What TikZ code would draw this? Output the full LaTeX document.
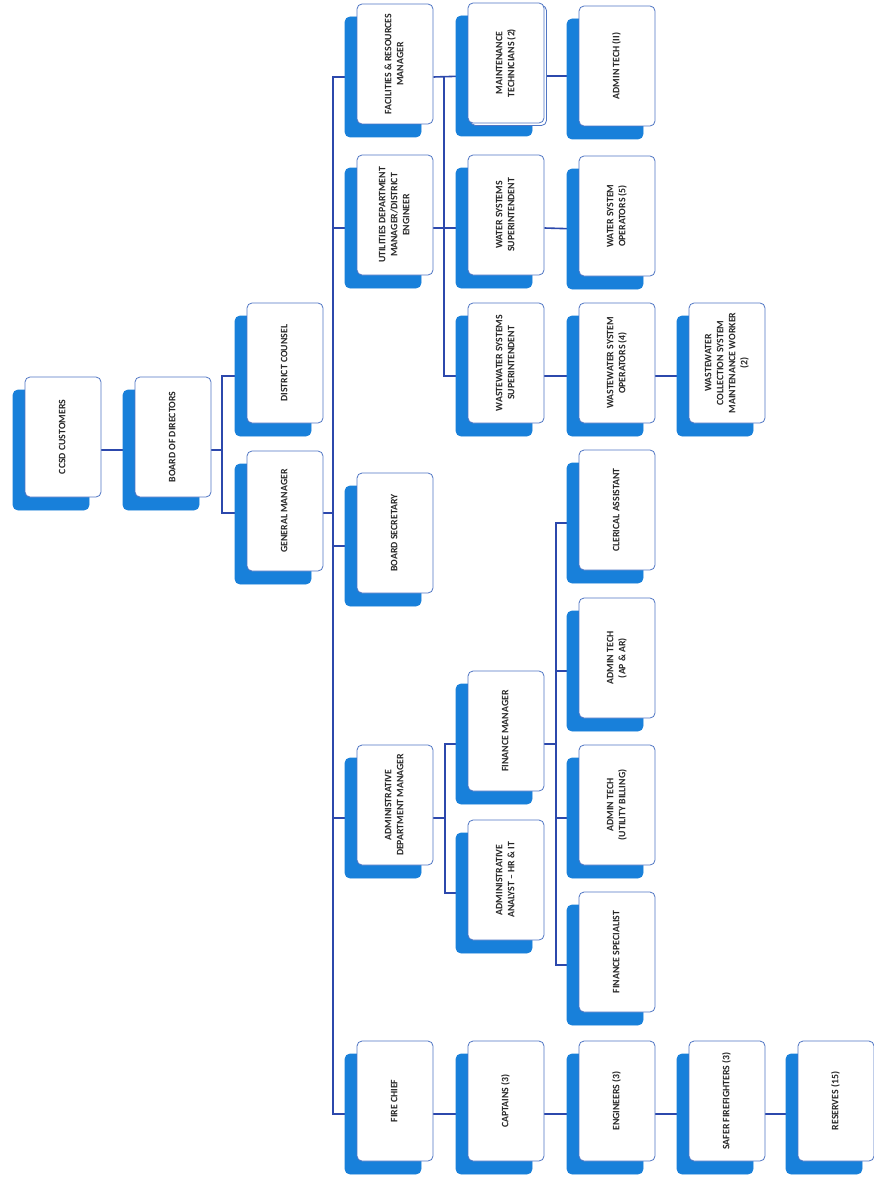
\documentclass[tikz,border=0pt]{standalone}
\usepackage{fontspec}
\setmainfont{Carlito}
\usetikzlibrary{shadows,backgrounds}
\definecolor{shblue}{RGB}{24,128,218}
\definecolor{bordc}{RGB}{80,118,196}
\definecolor{linec}{RGB}{44,72,172}
\newcommand\lbl[1]{\rotatebox{90}{\fontsize{9.8}{12}\selectfont\bfseries\begin{tabular}{@{}c@{}}#1\end{tabular}}}
\newcommand\pins[2][-13pt]{\coordinate (#2L) at ([yshift=#1]#2.west);\coordinate (#2R) at ([yshift=#1]#2.east);}
\begin{document}
\begin{tikzpicture}[x=1pt,y=-1pt,
  box/.style={draw=bordc,line width=0.8pt,fill=white,rounded corners=5pt,
    minimum width=76pt,minimum height=120pt,inner sep=0pt,text=black!85,
    copy shadow={shadow xshift=-12pt,shadow yshift=-13pt,fill=shblue,draw=shblue}},
  stackbox/.style={box,copy shadow={shadow xshift=2.5pt,shadow yshift=-2.5pt,fill=white,draw=bordc}},
  conn/.style={draw=linec,line width=1.6pt}]
\useasboundingbox (0,0) rectangle (873,1180);

% governance
\node[box] (ccsd)  at (63,437)  {\lbl{CCSD CUSTOMERS}};
\node[box] (board) at (173,437) {\lbl{BOARD OF DIRECTORS}};
\node[box] (dc)    at (285,363) {\lbl{DISTRICT COUNSEL}};
\node[box] (gm)    at (285,511) {\lbl{GENERAL MANAGER}};

% department heads
\node[box] (fac)  at (395,64)   {\lbl{FACILITIES \& RESOURCES\\MANAGER}};
\node[box] (util) at (395,215)  {\lbl{UTILITIES DEPARTMENT\\MANAGER/DISTRICT\\ENGINEER}};
\node[box] (bsec) at (395,533)  {\lbl{BOARD SECRETARY}};
\node[box] (adm)  at (395,805)  {\lbl{ADMINISTRATIVE\\DEPARTMENT MANAGER}};
\node[box] (fire) at (395,1101) {\lbl{FIRE CHIEF}};

% second level
\node[stackbox] (mt) at (506,63) {\lbl{MAINTENANCE\\TECHNICIANS (2)}};
\node[box] (ws)  at (506,215)  {\lbl{WATER SYSTEMS\\SUPERINTENDENT}};
\node[box] (ww)  at (506,363)  {\lbl{WASTEWATER SYSTEMS\\SUPERINTENDENT}};
\node[box] (fin) at (506,731)  {\lbl{FINANCE MANAGER}};
\node[box] (ana) at (506,880)  {\lbl{ADMINISTRATIVE\\ANALYST – HR \& IT}};
\node[box] (cap) at (506,1101) {\lbl{CAPTAINS (3)}};

% third level
\node[box] (at2)  at (617,66)   {\lbl{ADMIN TECH (II)}};
\node[box] (wso)  at (617,216)  {\lbl{WATER SYSTEM\\OPERATORS (5)}};
\node[box] (wwo)  at (617,363)  {\lbl{WASTEWATER SYSTEM\\OPERATORS (4)}};
\node[box] (cler) at (617,510)  {\lbl{CLERICAL ASSISTANT}};
\node[box] (apar) at (617,658)  {\lbl{ADMIN TECH\\(AP \& AR)}};
\node[box] (ub)   at (617,805)  {\lbl{ADMIN TECH\\(UTILITY BILLING)}};
\node[box] (fs)   at (617,952)  {\lbl{FINANCE SPECIALIST}};
\node[box] (eng)  at (617,1101) {\lbl{ENGINEERS (3)}};

% fourth level and beyond
\node[box] (wwc) at (727,363)  {\lbl{WASTEWATER\\COLLECTION SYSTEM\\MAINTENANCE WORKER\\(2)}};
\node[box] (saf) at (727,1101) {\lbl{SAFER FIREFIGHTERS (3)}};
\node[box] (res) at (836,1101) {\lbl{RESERVES (15)}};

% connection points
\pins{ccsd}\pins{board}\pins{dc}\pins[-2pt]{gm}
\pins{fac}\pins{util}\pins{bsec}\pins{adm}\pins{fire}
\pins{mt}\pins{ws}\pins{ww}\pins{fin}\pins{ana}\pins{cap}
\pins{at2}\pins{wso}\pins{wwo}\pins{cler}\pins{apar}\pins{ub}\pins{fs}\pins{eng}
\pins{wwc}\pins{saf}\pins{res}

% spine positions
\coordinate (sA) at (222,0);
\coordinate (sB) at (333,0);
\coordinate (sC) at (444,0);
\coordinate (sD) at (445,0);
\coordinate (sE) at (556,0);

\begin{scope}[on background layer]
  \fill[white] (0,0) rectangle (873,1180);
  \draw[conn] (ccsdR) -- (boardL);
  \draw[conn] (boardR) -- (boardR -| sA);
  \draw[conn] (dcL) -- (dcL -| sA) -- (gmL -| sA) -- (gmL);
  \draw[conn] (gmR) -- (gmR -| sB);
  \draw[conn] (facL) -- (facL -| sB) -- (fireL -| sB) -- (fireL);
  \draw[conn] (utilL) -- (utilL -| sB);
  \draw[conn] (bsecL) -- (bsecL -| sB);
  \draw[conn] (admL) -- (admL -| sB);
  % utilities and facilities branch
  \draw[conn] (facR) -- (mtL);
  \draw[conn] (utilR) -- (wsL);
  \draw[conn] (facR -| sC) -- (wwL -| sC) -- (wwL);
  \draw[conn] (mtR) -- (mtR -| at2L);
  \draw[conn] (wsR) -- (wsoL);
  \draw[conn] (wwR) -- (wwoL);
  \draw[conn] (wwoR) -- (wwcL);
  % administration branch
  \draw[conn] (finL) -- (finL -| sD) -- (anaL -| sD) -- (anaL);
  \draw[conn] (admR) -- (admR -| sD);
  \draw[conn] (clerL) -- (clerL -| sE) -- (fsL -| sE) -- (fsL);
  \draw[conn] (finR) -- (finR -| sE);
  \draw[conn] (aparL) -- (aparL -| sE);
  \draw[conn] (ubL) -- (ubL -| sE);
  % fire branch
  \draw[conn] (fireR) -- (capL);
  \draw[conn] (capR) -- (engL);
  \draw[conn] (engR) -- (safL);
  \draw[conn] (safR) -- (resL);
\end{scope}
\end{tikzpicture}
\end{document}
